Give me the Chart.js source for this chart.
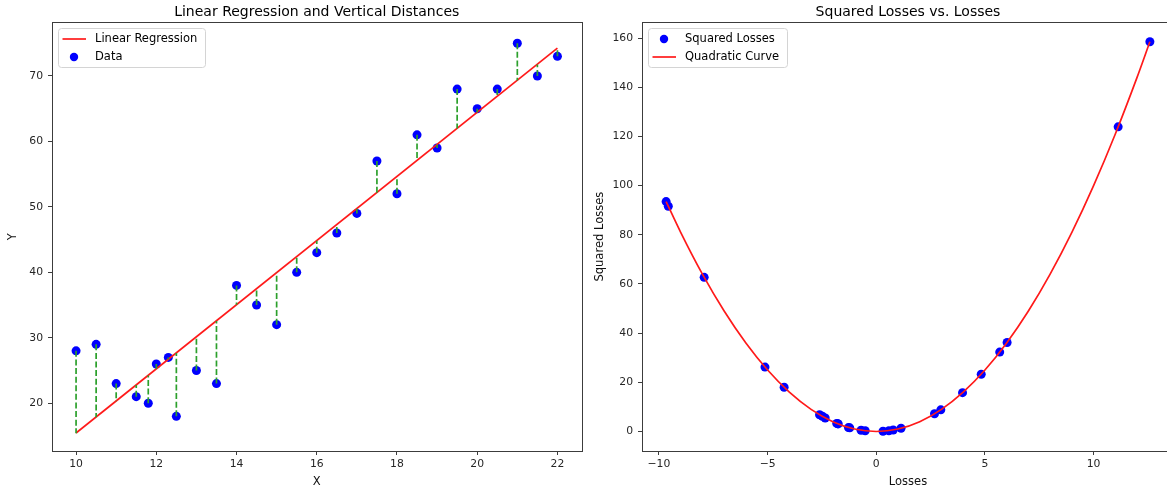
<!DOCTYPE html>
<html>
<head>
<meta charset="utf-8">
<script src="https://cdn.jsdelivr.net/npm/chart.js@4.4.1/dist/chart.umd.min.js"></script>
<style>
  html, body { margin: 0; padding: 0; background: #fff; overflow: hidden; }
  #wrap { position: relative; width: 1167px; height: 491px; overflow: hidden; }
  #left { position: absolute; left: 0; top: 0; }
  #right { position: absolute; left: 583px; top: 0; }
</style>
</head>
<body>
<div id="wrap">
  <canvas id="right" width="600" height="491"></canvas>
  <canvas id="left" width="586" height="491"></canvas>
</div>
<script>
// data
const dataX = [10, 10.5, 11, 11.5, 11.8, 12, 12.3, 12.5, 13, 13.5, 14, 14.5, 15, 15.5,
               16, 16.5, 17, 17.5, 18, 18.5, 19, 19.5, 20, 20.5, 21, 21.5, 22];
const dataY = [28, 29, 23, 21, 20, 26, 27, 18, 25, 23, 38, 35, 32, 40,
               43, 46, 49, 57, 52, 61, 59, 68, 65, 68, 75, 70, 73];

// regression line end points
const fitX = [10, 22];
const fitY = [15.45, 74.25];

// losses (same order as data) and squared losses
const losses = [12.59, 11.13, 2.68, -1.78, -4.24, 0.78, 0.31, -9.67, -5.12, -9.57, 2.97, -2.48, -7.92, -2.35,
                -1.82, -1.28, -0.70, 4.83, -2.61, 3.97, -0.51, 6.02, 0.58, 1.14, 5.68, -1.75, -1.22];
const squaredLosses = [158.5, 123.9, 7.2, 3.2, 18.0, 0.6, 0.1, 93.5, 26.2, 91.6, 8.8, 6.2, 62.7, 5.5,
                       3.3, 1.6, 0.5, 23.3, 6.8, 15.8, 0.3, 36.2, 0.3, 1.3, 32.3, 3.1, 1.5];

// quadratic curve samples
const curveX = [-9.67, -9, -8, -7, -6, -5, -4, -3, -2, -1, 0, 1, 2, 3, 4, 5, 6, 7, 8, 9, 10, 11, 12, 12.59];
const curveY = [93.5, 81, 64, 49, 36, 25, 16, 9, 4, 1, 0, 1, 4, 9, 16, 25, 36, 49, 64, 81, 100, 121, 144, 158.5];

// tick labels
const leftXTicks = [10, 12, 14, 16, 18, 20, 22];
const leftYTicks = [20, 30, 40, 50, 60, 70];
const rightXTicks = [-10, -5, 0, 5, 10];
const rightYTicks = [0, 20, 40, 60, 80, 100, 120, 140, 160];

const FONT = '"DejaVu Sans", "Liberation Sans", sans-serif';
const TICK_COLOR = '#262626';
const AXIS_COLOR = '#3c3c3c';

const fmt = v => (v < 0 ? '\u2212' + Math.abs(v) : String(v));

// matplotlib-like full frame round the plot area
const framePlugin = {
    id: 'frame',
    afterDatasetsDraw(chart) {
        const { ctx, chartArea: a } = chart;
        ctx.save();
        ctx.strokeStyle = AXIS_COLOR;
        ctx.lineWidth = 1;
        ctx.strokeRect(Math.round(a.left) + 0.5, Math.round(a.top) + 0.5,
                       Math.round(a.right - a.left), Math.round(a.bottom - a.top));
        ctx.restore();
    }
};

// legend box in the upper left corner of the plot area
const boxLegend = {
    id: 'boxLegend',
    afterDraw(chart, args, opts) {
        const { ctx, chartArea: a } = chart;
        const items = opts.items || [];
        ctx.save();
        ctx.font = '11.5px ' + FONT;
        const textW = Math.max(...items.map(it => ctx.measureText(it.text).width));
        const x0 = Math.round(a.left + 5.5), y0 = Math.round(a.top + 5.5);
        const w = Math.round(textW + 45), h = 39;
        ctx.beginPath();
        ctx.roundRect(x0 + 0.5, y0 + 0.5, w, h, 3);
        ctx.fillStyle = 'rgba(255,255,255,0.8)';
        ctx.fill();
        ctx.strokeStyle = '#d4d4d4';
        ctx.lineWidth = 1;
        ctx.stroke();

        items.forEach((it, i) => {
            const cy = y0 + 11 + i * 18;
            if (it.kind === 'line') {
                ctx.beginPath();
                ctx.moveTo(x0 + 4.5, cy);
                ctx.lineTo(x0 + 28, cy);
                ctx.strokeStyle = it.color;
                ctx.lineWidth = 1.7;
                ctx.stroke();
            } else {
                ctx.beginPath();
                ctx.arc(x0 + 16, cy, 4.2, 0, Math.PI * 2);
                ctx.fillStyle = it.color;
                ctx.fill();
            }
            ctx.fillStyle = '#000';
            ctx.textBaseline = 'middle';
            ctx.textAlign = 'left';
            ctx.fillText(it.text, x0 + 37, cy + 0.5);
        });
        ctx.restore();
    }
};

const axis = (min, max, ticks, titleText, fixedSize, isX, titlePad) => ({
    type: 'linear',
    min: min,
    max: max,
    afterBuildTicks: scale => { scale.ticks = ticks.map(v => ({ value: v })); },
    afterFit: scale => {
        if (isX) scale.height = fixedSize; else scale.width = fixedSize;
    },
    grid: { drawOnChartArea: false, drawTicks: true, tickLength: 4, tickColor: AXIS_COLOR, tickWidth: 1 },
    border: { display: false },
    ticks: {
        font: { family: FONT, size: 10.8 },
        color: TICK_COLOR,
        padding: isX ? 3 : 5,
        maxRotation: 0,
        autoSkip: false,
        callback: v => fmt(v)
    },
    title: {
        display: true,
        text: titleText,
        color: '#111',
        font: { family: FONT, size: 11.5 },
        padding: titlePad
    }
});

const titleOpts = text => ({
    display: true,
    text: text,
    fullSize: false,
    color: '#000',
    font: { family: FONT, size: 14, weight: 'normal' },
    padding: { top: 3.5, bottom: 2 }
});

// ---------- left chart ----------
const scatterPts = dataX.map((x, i) => ({ x: x, y: dataY[i] }));
const fitPts = fitX.map((x, i) => ({ x: x, y: fitY[i] }));
const residualPts = [];
dataX.forEach((x, i) => {
    residualPts.push({ x: x, y: dataY[i] });
    residualPts.push({ x: x, y: dataY[i] - losses[i] });
    residualPts.push({ x: x, y: null });
});

const leftY = axis(12.7, 78.2, leftYTicks, 'Y', 52, false, { top: 6, bottom: 0 });
const leftX = axis(9.4, 22.6, leftXTicks, 'X', 40, true, { top: 0, bottom: 2 });

new Chart(document.getElementById('left'), {
    type: 'line',
    data: {
        datasets: [
            {
                label: 'residuals',
                data: residualPts,
                borderColor: '#2ca02c',
                borderWidth: 1.7,
                borderDash: [6, 2.6],
                pointRadius: 0,
                spanGaps: false,
                order: 0
            },
            {
                label: 'Linear Regression',
                data: fitPts,
                borderColor: '#ff1a1a',
                borderWidth: 1.7,
                pointRadius: 0,
                order: 1
            },
            {
                label: 'Data',
                data: scatterPts,
                showLine: false,
                pointRadius: 4.5,
                pointBorderWidth: 0,
                pointBackgroundColor: '#0000ff',
                order: 2
            }
        ]
    },
    options: {
        responsive: false,
        animation: false,
        events: [],
        layout: { padding: { right: 1 } },
        scales: { x: leftX, y: leftY },
        plugins: {
            legend: { display: false },
            tooltip: { enabled: false },
            title: titleOpts('Linear Regression and Vertical Distances'),
            boxLegend: {
                items: [
                    { kind: 'line', color: '#ff1a1a', text: 'Linear Regression' },
                    { kind: 'dot', color: '#0000ff', text: 'Data' }
                ]
            }
        }
    },
    plugins: [framePlugin, boxLegend]
});

// ---------- right chart ----------
const lossPts = losses.map((l, i) => ({ x: l, y: squaredLosses[i] }));
const curvePts = curveX.map((x, i) => ({ x: x, y: curveY[i] }));

const rightY = axis(-7.93, 166.4, rightYTicks, 'Squared Losses', 59, false, { top: 10.5, bottom: 0 });
const rightX = axis(-10.78, 13.7, rightXTicks, 'Losses', 40, true, { top: 0, bottom: 2 });

new Chart(document.getElementById('right'), {
    type: 'line',
    data: {
        datasets: [
            {
                label: 'Quadratic Curve',
                data: curvePts,
                borderColor: '#ff1a1a',
                borderWidth: 1.7,
                pointRadius: 0,
                cubicInterpolationMode: 'monotone',
                order: 0
            },
            {
                label: 'Squared Losses',
                data: lossPts,
                showLine: false,
                pointRadius: 4.5,
                pointBorderWidth: 0,
                pointBackgroundColor: '#0000ff',
                order: 1
            }
        ]
    },
    options: {
        responsive: false,
        animation: false,
        events: [],
        layout: { padding: { right: 9 } },
        scales: { x: rightX, y: rightY },
        plugins: {
            legend: { display: false },
            tooltip: { enabled: false },
            title: titleOpts('Squared Losses vs. Losses'),
            boxLegend: {
                items: [
                    { kind: 'dot', color: '#0000ff', text: 'Squared Losses' },
                    { kind: 'line', color: '#ff1a1a', text: 'Quadratic Curve' }
                ]
            }
        }
    },
    plugins: [framePlugin, boxLegend]
});
</script>
</body>
</html>
